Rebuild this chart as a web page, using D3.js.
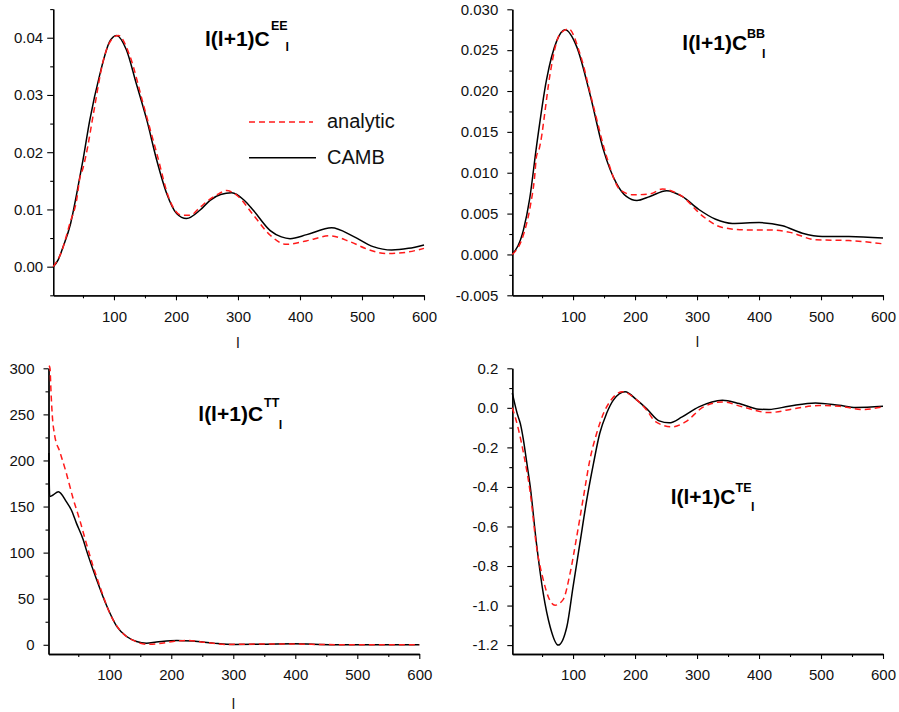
<!DOCTYPE html>
<html><head><meta charset="utf-8">
<script src="https://cdn.jsdelivr.net/npm/d3@7"></script>
<style>
body{margin:0;background:#fff;}
svg{display:block;}
text{font-family:"Liberation Sans",Arial,Helvetica,sans-serif;}
</style>
</head><body>
<svg id="c" width="899" height="712"></svg>
<script>
// ---------- DATA ----------
// EE
const EE_camb_l = [2,10,18,30,40,50,61,77,93,104,120,136,153,169,185,201,217,239,255,272,290,310,325,352,370,384,411,451,486,518,548,575,600];
const EE_camb_v = [0,0.0012,0.0035,0.0075,0.0128,0.0186,0.0256,0.0335,0.0393,0.0404,0.0379,0.0320,0.0256,0.0186,0.0128,0.0093,0.0084,0.0099,0.0116,0.0126,0.0129,0.0116,0.0098,0.0063,0.0052,0.0049,0.0056,0.0068,0.0053,0.0035,0.0029,0.0032,0.0038];
const EE_anal_l = [2,15,29,40,45,50,55,67,83,95,107,126,147,169,190,209,223,240,255,270,281,300,325,352,378,410,448,480,510,540,570,600];
const EE_anal_v = [0,0.0025,0.0076,0.0118,0.0155,0.0172,0.0195,0.0268,0.0361,0.0395,0.0404,0.0367,0.0285,0.0198,0.0116,0.0090,0.0090,0.0105,0.0118,0.0128,0.0133,0.0123,0.0090,0.0055,0.0039,0.0045,0.0054,0.0044,0.0030,0.0023,0.0025,0.0032];
// BB
const BB_camb_l = [2,20,30,41,57,74,87,106,127,149,170,186,203,224,251,276,303,330,357,400,438,470,502,545,600];
const BB_camb_v = [0,0.0030,0.0068,0.0132,0.0213,0.0262,0.0275,0.0254,0.0197,0.0128,0.0087,0.0071,0.0066,0.0071,0.0078,0.0071,0.0055,0.0043,0.0038,0.0039,0.0035,0.0026,0.0022,0.0022,0.0020];
const BB_anal_l = [2,20,31,38,41,45,50,53,63,79,93,111,133,154,176,197,224,244,276,309,341,380,420,450,491,545,600];
const BB_anal_v = [0,0.0024,0.0059,0.0095,0.0120,0.0128,0.0148,0.0165,0.0221,0.0270,0.0276,0.0246,0.0181,0.0120,0.0079,0.0073,0.0074,0.0080,0.0071,0.0047,0.0033,0.0030,0.0030,0.0027,0.0018,0.0017,0.0013];
// TT
const TT_camb_l = [2.6,3.2,4,8,18,31,39,47,58,63,80,96,112,128,144,160,176,209,235,268,300,354,397,461,600];
const TT_camb_v = [208,175,161,162,166,155,146,132,114,103,70,42,20,9,3.6,1.8,2.9,4.7,4,1.8,0.4,0.7,1,0,0];
const TT_anal_l = [3,4.4,6,8,12,20,30,42,53,63,74,85,101,117,139,160,176,203,225,257,289,350,400,450,600];
const TT_anal_v = [303,300,275,250,227,210,188,158,134,110,85,63,34,16,4.7,0.5,1,3.6,4.7,2.5,0.4,0.8,0.8,0.2,0];
// TE
const TE_camb_l = [2,6,10,15,20,25,31,41,52,63,76,90,100,111,122,133,143,154,165,184,203,219,239,255,276,303,341,368,400,416,448,491,529,556,600];
const TE_camb_v = [0.075,0.02,-0.03,-0.08,-0.163,-0.27,-0.40,-0.686,-0.94,-1.107,-1.2,-1.107,-0.905,-0.686,-0.467,-0.281,-0.13,-0.029,0.039,0.081,0.039,-0.005,-0.066,-0.076,-0.046,0.005,0.039,0.022,-0.007,-0.008,0.008,0.025,0.013,0.002,0.008];
const TE_anal_l = [2,7,12,20,31,41,52,60,71,84,95,106,117,127,138,149,160,180,203,219,233,260,282,309,341,373,416,459,497,530,567,600];
const TE_anal_v = [0,-0.05,-0.11,-0.228,-0.43,-0.70,-0.87,-0.955,-0.998,-0.97,-0.84,-0.65,-0.447,-0.265,-0.13,-0.029,0.034,0.081,0.039,-0.012,-0.07,-0.096,-0.07,0.002,0.03,0.005,-0.024,-0.003,0.012,0.008,-0.008,0.005];

// tick values
const xMajor = [100,200,300,400,500,600];
const xMinor = [50,150,250,350,450,550];
const EE_yMajor = [0,0.01,0.02,0.03,0.04];
const EE_yMinor = [-0.005,0.005,0.015,0.025,0.035,0.045];
const BB_yMajor = [-0.005,0,0.005,0.01,0.015,0.02,0.025,0.03];
const BB_yMinor = [-0.0025,0.0025,0.0075,0.0125,0.0175,0.0225,0.0275];
const TT_yMajor = [0,50,100,150,200,250,300];
const TT_yMinor = [25,75,125,175,225,275];
const TE_yMajor = [-1.2,-1.0,-0.8,-0.6,-0.4,-0.2,0.0,0.2];
const TE_yMinor = [-1.1,-0.9,-0.7,-0.5,-0.3,-0.1,0.1];

const seriesNames = ["analytic","CAMB"];

// ---------- DRAW ----------
const svg = d3.select("#c");
const RED = "#ff1a1a";

const panels = [
  {xr:[53.2,424], yr:[295.3,9.1], yd:[-0.005,0.045], ymaj:EE_yMajor, ymin:EE_yMinor, dec:2, ypad:4, ytick:6,
   camb:[EE_camb_l,EE_camb_v], anal:[EE_anal_l,EE_anal_v], xlabel:[238,348],
   title:{x:205,y:45.7,sup:"EE",sx:271,sy:30,subx:285.5,suby:50.5}},
  {xr:[512.3,883], yr:[295.3,9.3], yd:[-0.005,0.030], ymaj:BB_yMajor, ymin:BB_yMinor, dec:3, ypad:9, ytick:5,
   camb:[BB_camb_l,BB_camb_v], anal:[BB_anal_l,BB_anal_v], xlabel:[697.5,347],
   title:{x:682.3,y:50,sup:"BB",sx:747,sy:37.5,subx:762,suby:58.3}},
  {xr:[48.5,419.3], yr:[654,368.3], yd:[-10,300], ymaj:TT_yMajor, ymin:TT_yMinor, dec:0, ypad:9, ytick:5,
   camb:[TT_camb_l,TT_camb_v], anal:[TT_anal_l,TT_anal_v], xlabel:[233.5,709],
   title:{x:198.3,y:420.7,sup:"TT",sx:264,sy:407.3,subx:278.8,suby:429}},
  {xr:[512.3,883], yr:[654,368.3], yd:[-1.245,0.2], ymaj:TE_yMajor, ymin:TE_yMinor, dec:1, ypad:9, ytick:5,
   camb:[TE_camb_l,TE_camb_v], anal:[TE_anal_l,TE_anal_v], xlabel:null,
   title:{x:670.7,y:504,sup:"TE",sx:735.5,sy:491.7,subx:751,suby:511}}
];

panels.forEach(p => {
  const x = d3.scaleLinear().domain([2,600]).range(p.xr);
  const y = d3.scaleLinear().domain(p.yd).range(p.yr);
  const g = svg.append("g");
  const y0 = p.yr[0];

  g.append("g").attr("transform",`translate(0,${y0})`)
    .call(d3.axisBottom(x).tickValues(xMajor).tickSize(5).tickSizeOuter(0).tickPadding(10.7).tickFormat(d3.format("d")));
  g.append("g").attr("transform",`translate(0,${y0})`)
    .call(d3.axisBottom(x).tickValues(xMinor).tickSize(3).tickSizeOuter(0).tickFormat(""));
  const xl = p.xr[0];
  g.append("g").attr("transform",`translate(${xl},0)`)
    .call(d3.axisLeft(y).tickValues(p.ymaj).tickSize(p.ytick).tickSizeOuter(0).tickPadding(p.ypad).tickFormat(d => (+d).toFixed(p.dec)));
  g.append("g").attr("transform",`translate(${xl},0)`)
    .call(d3.axisLeft(y).tickValues(p.ymin).tickSize(3).tickSizeOuter(0).tickFormat(""));

  g.selectAll(".domain").attr("stroke","#000").attr("stroke-width",1.3);
  g.selectAll(".tick line").attr("stroke","#000").attr("stroke-width",1.1);
  g.selectAll(".tick text").attr("font-size",15).attr("fill","#111")
    .attr("font-family",'"Liberation Sans",Arial,sans-serif');

  const line = d3.line().x(d=>x(d[0])).y(d=>y(d[1])).curve(d3.curveMonotoneX);
  const camb = p.camb[0].map((l,i)=>[l,p.camb[1][i]]);
  const anal = p.anal[0].map((l,i)=>[l,p.anal[1][i]]);
  g.append("path").attr("d",line(camb)).attr("fill","none").attr("stroke","#000").attr("stroke-width",1.5);
  g.append("path").attr("d",line(anal)).attr("fill","none").attr("stroke",RED).attr("stroke-width",1.5)
    .attr("stroke-dasharray","6,4");

  if (p.xlabel) {
    g.append("text").attr("x",p.xlabel[0]).attr("y",p.xlabel[1]).attr("text-anchor","middle")
      .attr("font-size",15).attr("fill","#111").text("l");
  }
  const t = p.title;
  g.append("text").attr("x",t.x).attr("y",t.y).attr("font-size",21).attr("font-weight","bold").text("l(l+1)C");
  g.append("text").attr("x",t.sx).attr("y",t.sy).attr("font-size",12.5).attr("font-weight","bold").text(t.sup);
  g.append("text").attr("x",t.subx).attr("y",t.suby).attr("font-size",12.5).attr("font-weight","bold").text("l");
});

// legend in first panel
const lg = svg.append("g");
lg.append("line").attr("x1",249).attr("x2",313).attr("y1",122).attr("y2",122)
  .attr("stroke",RED).attr("stroke-width",1.5).attr("stroke-dasharray","6,4");
lg.append("text").attr("x",327).attr("y",128.3).attr("font-size",20).attr("fill","#111").text(seriesNames[0]);
lg.append("line").attr("x1",249).attr("x2",316).attr("y1",157.7).attr("y2",157.7)
  .attr("stroke","#000").attr("stroke-width",1.5);
lg.append("text").attr("x",327).attr("y",164.3).attr("font-size",20).attr("fill","#111").text(seriesNames[1]);
</script>
</body></html>
